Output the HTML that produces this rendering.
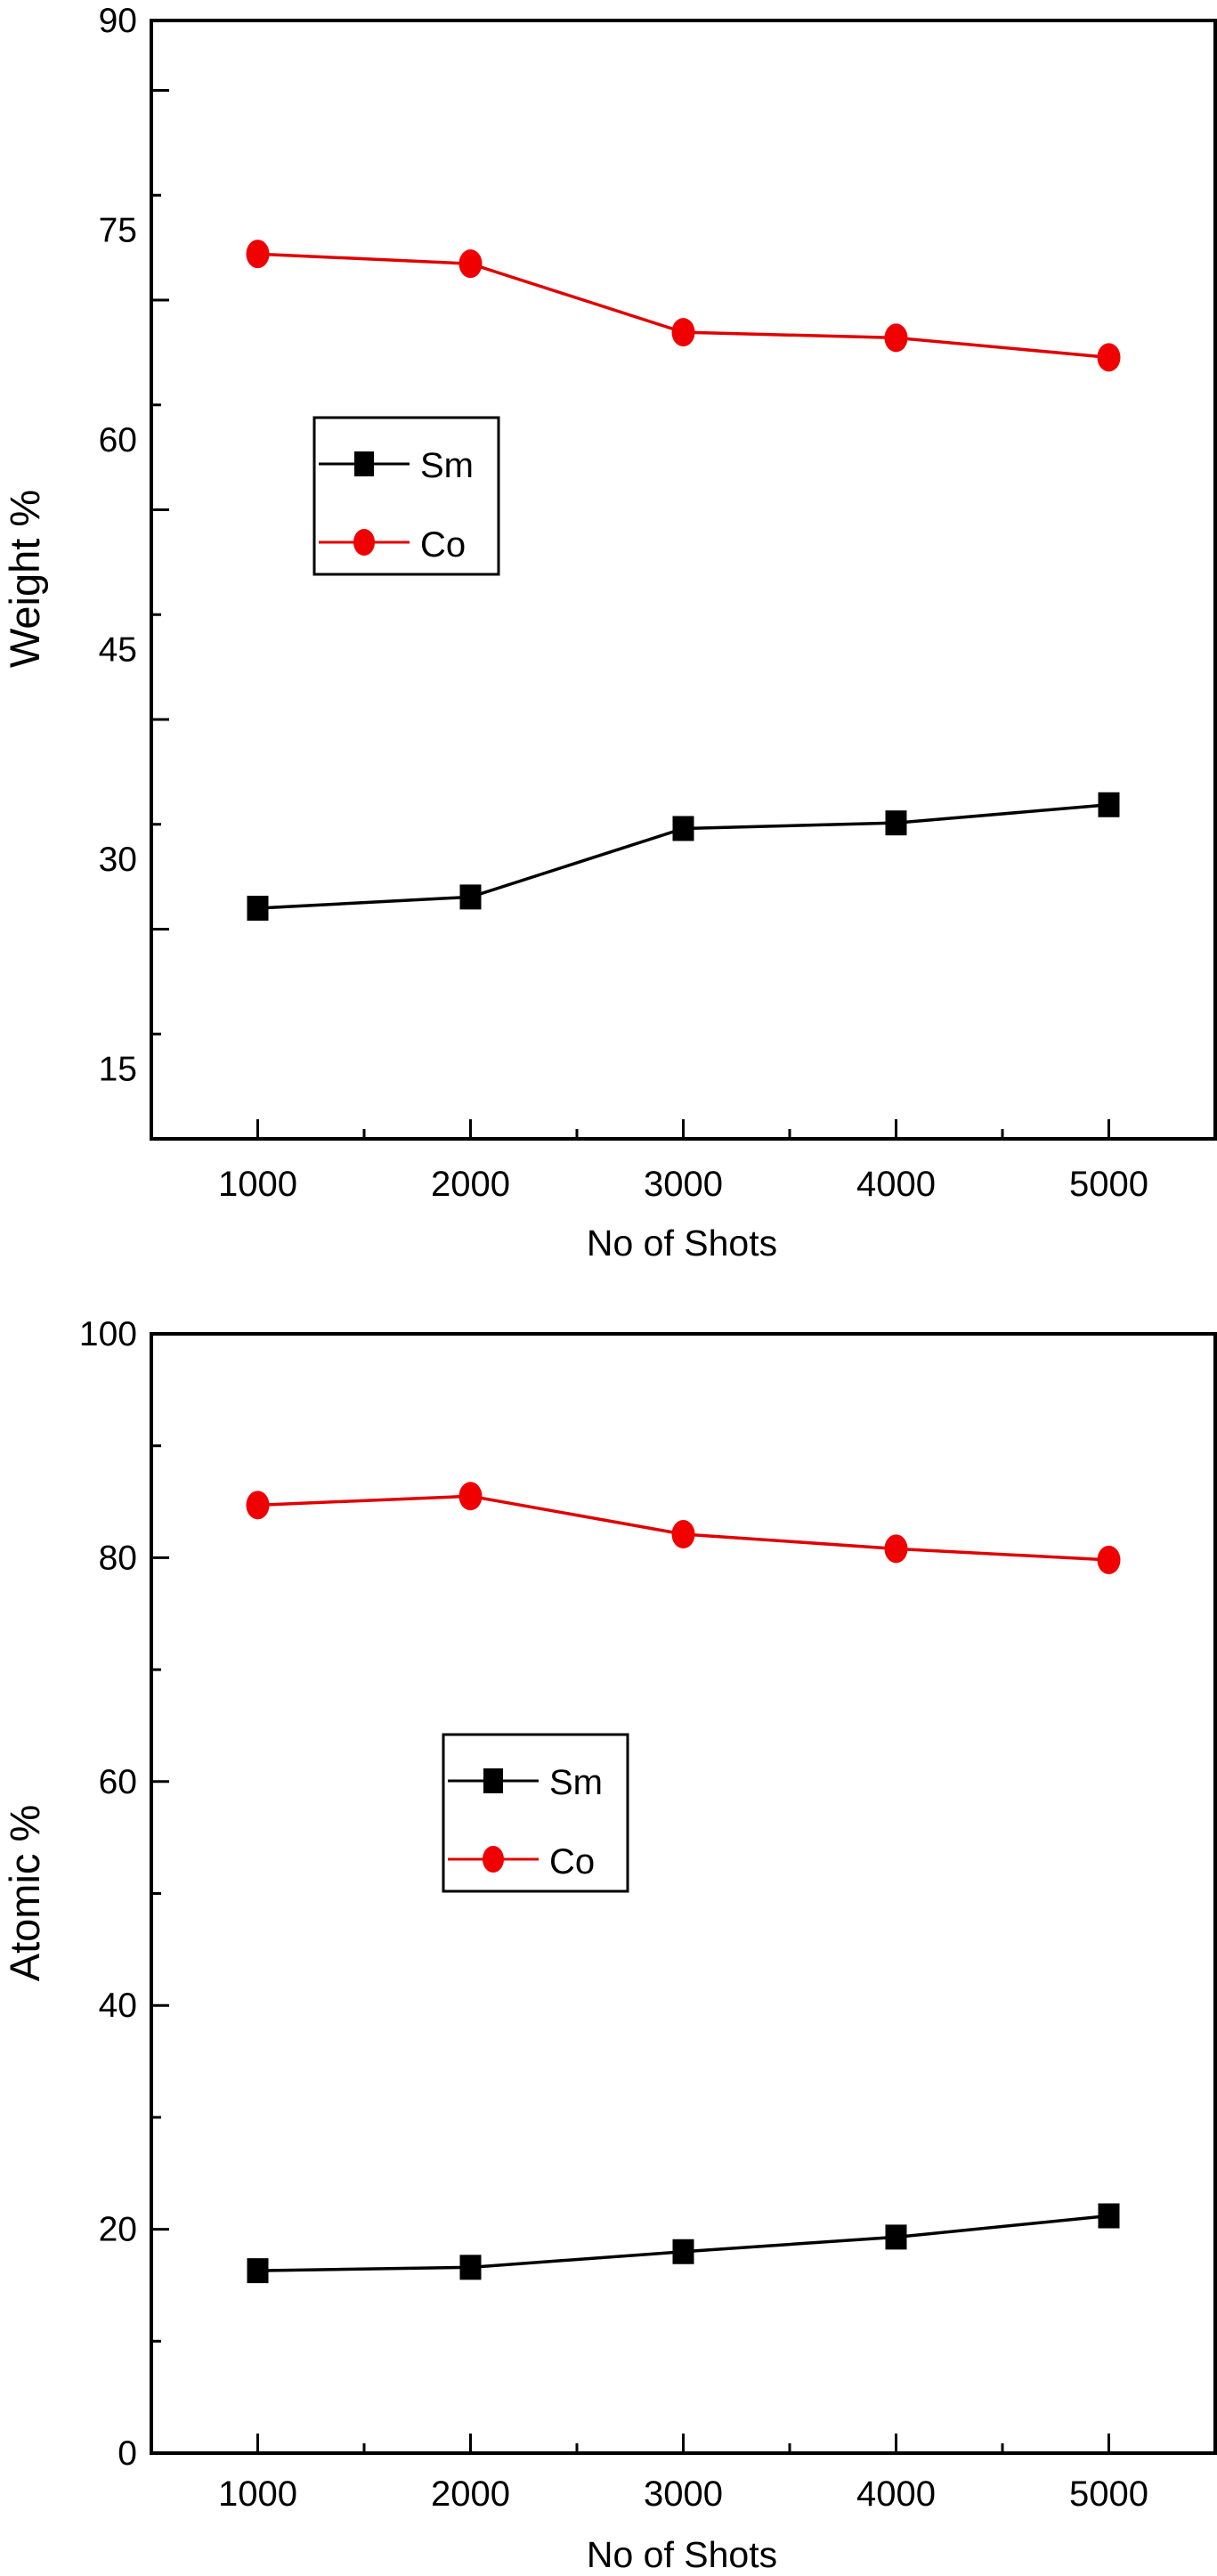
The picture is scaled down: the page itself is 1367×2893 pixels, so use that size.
<!DOCTYPE html>
<html><head><meta charset="utf-8"><style>
html,body{margin:0;padding:0;background:#fff;}
svg{display:block;font-family:"Liberation Sans",Arial,sans-serif;}
</style></head><body>
<svg id="fig" width="1367" height="2893" viewBox="0 0 1367 2893" xmlns="http://www.w3.org/2000/svg"></svg>
<script>
const categories = [1000, 2000, 3000, 4000, 5000];
const weightSm = [26.5, 27.3, 32.2, 32.6, 33.9];
const weightCo = [73.3, 72.6, 67.7, 67.3, 65.9];
const atomicSm = [16.3, 16.6, 18.0, 19.3, 21.2];
const atomicCo = [84.7, 85.5, 82.1, 80.8, 79.8];
const weightTicks = [15, 30, 45, 60, 75, 90];
const atomicTicks = [0, 20, 40, 60, 80, 100];
const xTickLabels = ["1000", "2000", "3000", "4000", "5000"];

const NS = "http://www.w3.org/2000/svg";
const svg = document.getElementById('fig');
function mk(tag, attrs, parent, text) {
  const e = document.createElementNS(NS, tag);
  for (const k in attrs) e.setAttribute(k, attrs[k]);
  if (text !== undefined) e.textContent = text;
  (parent || svg).appendChild(e);
  return e;
}

function chart(cfg) {
  const g = mk('g', {});
  
  
  const L = 170, R = 1365, T = cfg.top, B = cfg.bottom;
  const xs = v => L + (v - 500) / 5000 * (R - L);
  const ys = v => B - (v - cfg.ymin) / (cfg.ymax - cfg.ymin) * (B - T);
  const fr = mk('rect', {x: L, y: T, width: R - L, height: B - T, fill: 'none', stroke: '#000', 'stroke-width': 4}, g);
  
  
  for (let v = cfg.ymin; v <= cfg.ymax + 1e-9; v += cfg.ystep / 2) {
    const major = Math.abs(((v - cfg.ymin) / cfg.ystep) - Math.round((v - cfg.ymin) / cfg.ystep)) < 1e-6;
    const tk = mk('line', {x1: L, x2: L + (major ? 20 : 11), y1: ys(v), y2: ys(v), stroke: '#000', 'stroke-width': 3}, g);
    
    
  }
  cfg.ticks.forEach(v => {
    const t = mk('text', {x: 154, y: ys(v) + 13, 'text-anchor': 'end', 'font-size': 39}, g, String(v));
    
    
  });
  for (let v = 1000; v <= 5000; v += 500) {
    const major = v % 1000 === 0;
    const tk = mk('line', {x1: xs(v), x2: xs(v), y1: B, y2: B - (major ? 22 : 11), stroke: '#000', 'stroke-width': 3}, g);
    
    
  }
  categories.forEach((c, i) => {
    const t = mk('text', {x: xs(c), y: cfg.xlabY, 'text-anchor': 'middle', 'font-size': 40}, g, xTickLabels[i]);
    
    
  });
  const xt = mk('text', {x: 766, y: cfg.xtitleY, 'text-anchor': 'middle', 'font-size': 41}, g, 'No of Shots');
  
  
  const yt = mk('text', {x: 0, y: 0, 'text-anchor': 'middle', 'font-size': 47, transform: `translate(44,${cfg.ytitleY}) rotate(-90)`}, g, cfg.ytitle);
  
  
  const series = [
    {vals: cfg.co, color: '#e00000', shape: 'circle', name: 'co'},
    {vals: cfg.sm, color: '#000', shape: 'square', name: 'sm'}
  ];
  series.forEach(s => {
    const pts = s.vals.map((v, i) => xs(categories[i]) + ',' + ys(v)).join(' ');
    const pl = mk('polyline', {points: pts, fill: 'none', stroke: s.color, 'stroke-width': 3.5}, g);
    
    
    s.vals.forEach((v, i) => {
      let m;
      if (s.shape === 'circle') {
        m = mk('ellipse', {cx: xs(categories[i]), cy: ys(v), rx: 13, ry: 16, fill: '#f00000'}, g);
      } else {
        m = mk('rect', {x: xs(categories[i]) - 12, y: ys(v) - 14, width: 24, height: 28, fill: '#000'}, g);
      }
      
      
    });
  });
  const lg = mk('g', {}, g);
  
  
  const lx = cfg.legX, ly = cfg.legY;
  mk('rect', {x: lx, y: ly, width: 207, height: 176, fill: '#fff', stroke: '#000', 'stroke-width': 3}, lg);
  const e1 = mk('g', {}, lg);
  
  
  mk('line', {x1: lx + 5, x2: lx + 107, y1: ly + 52, y2: ly + 52, stroke: '#000', 'stroke-width': 3}, e1);
  mk('rect', {x: lx + 45, y: ly + 38, width: 22, height: 28, fill: '#000'}, e1);
  mk('text', {x: lx + 119, y: ly + 67, 'font-size': 40}, e1, 'Sm');
  const e2 = mk('g', {}, lg);
  
  
  mk('line', {x1: lx + 5, x2: lx + 107, y1: ly + 140, y2: ly + 140, stroke: '#e00000', 'stroke-width': 3}, e2);
  mk('ellipse', {cx: lx + 56, cy: ly + 140, rx: 12, ry: 15, fill: '#f00000'}, e2);
  mk('text', {x: lx + 119, y: ly + 156, 'font-size': 40}, e2, 'Co');
}

chart({name: 'weight-chart', top: 23, bottom: 1279, ymin: 10, ymax: 90, ystep: 15, ticks: weightTicks,
  sm: weightSm, co: weightCo, xlabY: 1343, xtitleY: 1410, ytitle: 'Weight %', ytitleY: 650, legX: 353, legY: 469});
chart({name: 'atomic-chart', top: 1498, bottom: 2755, ymin: 0, ymax: 100, ystep: 20, ticks: atomicTicks,
  sm: atomicSm, co: atomicCo, xlabY: 2814, xtitleY: 2883, ytitle: 'Atomic %', ytitleY: 2126, legX: 498, legY: 1948});
</script>
</body></html>
